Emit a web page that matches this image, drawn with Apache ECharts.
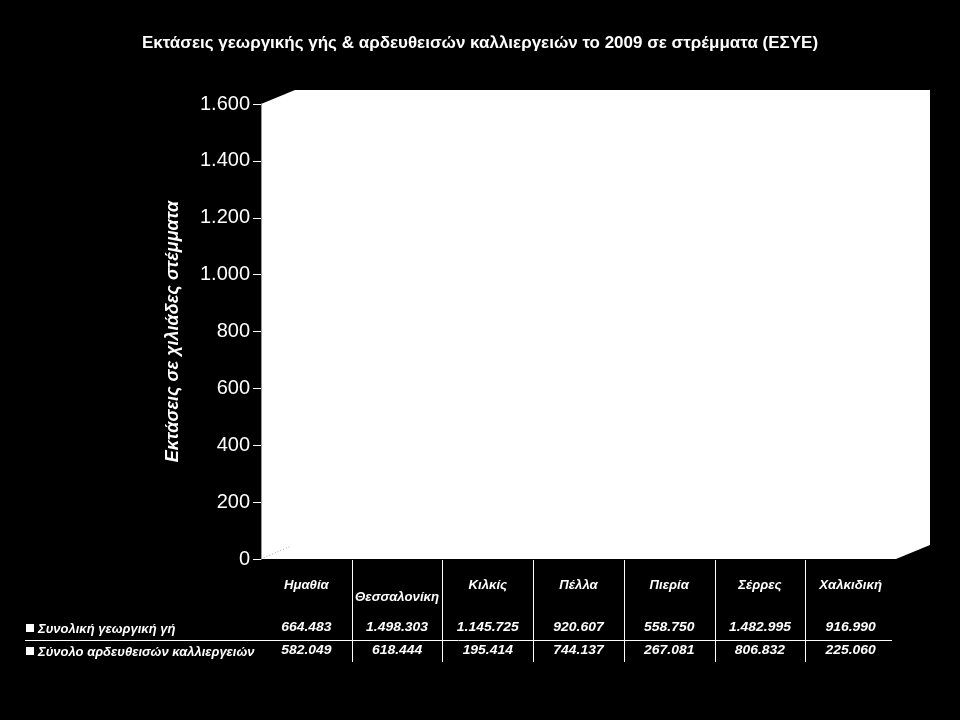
<!DOCTYPE html>
<html>
<head>
<meta charset="utf-8">
<script src="https://cdn.jsdelivr.net/npm/echarts@6/dist/echarts.min.js"></script>
<style>
  html, body { margin: 0; background: #000; }
  #chart { width: 960px; height: 720px; }
</style>
</head>
<body>
<div id="chart"></div>
<script>
  // data (στρέμματα)
  var categories = ['Ημαθία', 'Θεσσαλονίκη', 'Κιλκίς', 'Πέλλα', 'Πιερία', 'Σέρρες', 'Χαλκιδική']
  var totalLand = [664483, 1498303, 1145725, 920607, 558750, 1482995, 916990]
  var irrigated = [582049, 618444, 195414, 744137, 267081, 806832, 225060]
  var seriesNames = ['Συνολική γεωργική γή', 'Σύνολο αρδευθεισών καλλιεργειών']

  var FONT = '"Liberation Sans", Arial, sans-serif'

  function fmt (n) {
    return String(n).replace(/\B(?=(\d{3})+(?!\d))/g, '.')
  }
  function thousands (arr) {
    return arr.map(function (v) { return v / 1000 })
  }

  var chart = echarts.init(document.getElementById('chart'))

  var option = {
    backgroundColor: '#000',
    animation: false,
    title: {
      text: 'Εκτάσεις γεωργικής γής & αρδευθεισών καλλιεργειών το 2009 σε στρέμματα (ΕΣΥΕ)',
      left: 'center',
      top: 30,
      textStyle: { color: '#fff', fontSize: 17, fontWeight: 'bold', fontFamily: FONT }
    },
    grid: { left: 261, right: 64, top: 104, bottom: 161 },
    xAxis: {
      type: 'category',
      data: categories,
      axisLine: { show: false },
      axisTick: { show: false },
      axisLabel: { show: false }
    },
    yAxis: {
      type: 'value',
      min: 0,
      max: 1600,
      interval: 200,
      name: 'Εκτάσεις σε χιλιάδες στέμματα',
      nameLocation: 'middle',
      nameGap: 79,
      nameTextStyle: { color: '#fff', fontSize: 18, fontWeight: 'bold', fontStyle: 'italic', fontFamily: FONT },
      axisLine: { show: true, lineStyle: { color: '#999', width: 1 } },
      axisTick: { show: true, length: 8, lineStyle: { color: '#fff' } },
      axisLabel: {
        color: '#fff',
        fontSize: 20,
        fontFamily: FONT,
        margin: 11,
        formatter: function (v) { return fmt(v) }
      },
      splitLine: { show: false }
    },
    series: [
      { name: seriesNames[0], type: 'bar', data: thousands(totalLand), itemStyle: { color: '#fff' } },
      { name: seriesNames[1], type: 'bar', data: thousands(irrigated), itemStyle: { color: '#fff' } }
    ]
  }
  chart.setOption(option)

  // 3D panel and data table
  function buildGraphic () {
    var els = []
    var x0 = chart.convertToPixel({ xAxisIndex: 0 }, 0)
    var x1 = chart.convertToPixel({ xAxisIndex: 0 }, 1)
    var step = x1 - x0
    var left = x0 - step / 2
    var right = x0 + step * (categories.length - 0.5)
    var top = chart.convertToPixel({ yAxisIndex: 0 }, 1600)
    var bottom = chart.convertToPixel({ yAxisIndex: 0 }, 0)
    var dx = 34, dy = 14

    els.push({
      type: 'polygon', z: -10, silent: true,
      shape: { points: [[left, top], [left + dx, top - dy], [right + dx, top - dy], [right + dx, bottom - dy], [right, bottom], [left, bottom]] },
      style: { fill: '#fff' }
    })
    els.push({
      type: 'line', z: 5, silent: true,
      shape: { x1: left, y1: bottom, x2: left + 30, y2: bottom - 13 },
      style: { stroke: '#aaa', lineWidth: 1, lineDash: [1, 2] }
    })

    // stretched bold italic text like the original table
    var tableText = function (txt, x, y, align, size, sx) {
      return {
        type: 'text', silent: true,
        x: x, y: y, scaleX: sx || 1,
        style: {
          text: txt, x: 0, y: 0, fill: '#fff',
          font: 'italic bold ' + size + 'px ' + FONT,
          align: align || 'center', verticalAlign: 'middle'
        }
      }
    }

    // vertical separators
    for (var i = 0; i < categories.length - 1; i++) {
      var xs = Math.round(left + step * (i + 1)) + 0.5
      els.push({
        type: 'line', silent: true,
        shape: { x1: xs, y1: bottom + 1, x2: xs, y2: 662 },
        style: { stroke: '#fff', lineWidth: 1 }
      })
    }
    // row separator
    els.push({
      type: 'line', silent: true,
      shape: { x1: 25, y1: 640.5, x2: right - 4, y2: 640.5 },
      style: { stroke: '#fff', lineWidth: 1 }
    })

    categories.forEach(function (c, i) {
      var cx = x0 + step * i
      els.push(tableText(c, cx, i === 1 ? 598 : 586, 'center', 12, 1.1))
      els.push(tableText(fmt(totalLand[i]), cx, 628, 'center', 12, 1.16))
      els.push(tableText(fmt(irrigated[i]), cx, 651, 'center', 12, 1.16))
    })

    var rows = [628, 651]
    seriesNames.forEach(function (n, i) {
      els.push({
        type: 'rect', silent: true,
        shape: { x: 26, y: rows[i] - 4, width: 8, height: 8 },
        style: { fill: '#fff' }
      })
      els.push(tableText(n, 38, rows[i] + 1, 'left', 13, 1.0))
    })

    chart.setOption({ graphic: { elements: els } })
  }
  buildGraphic()
</script>
</body>
</html>
